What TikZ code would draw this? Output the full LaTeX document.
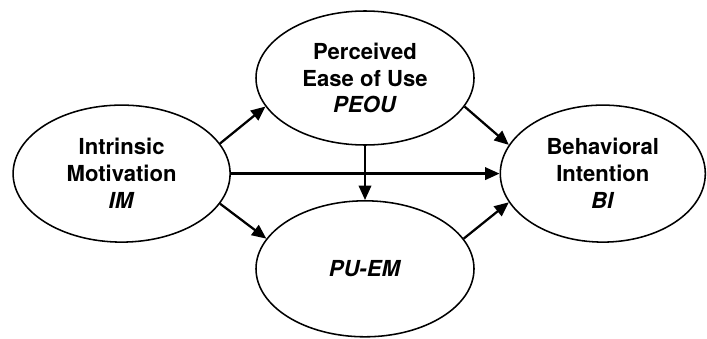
\documentclass[tikz,border=0pt]{standalone}
\usepackage{fontspec}
\setmainfont{TeX Gyre Heros}
\usetikzlibrary{shapes.geometric,arrows.meta}

\begin{document}
\begin{tikzpicture}[
  construct/.style={draw, ellipse, line width=1.1pt, inner sep=0pt, align=center,
    font=\bfseries\fontsize{15.7}{19.1}\selectfont},
  path/.style={line width=1.6pt, -{Triangle[length=3.6mm, width=3.1mm]}}]

\useasboundingbox (0,0) rectangle (17.675, 8.45);

\node[construct, minimum width=5.425cm, minimum height=3.425cm] (IM) at (3.04, 4.11) {Intrinsic\\Motivation\\\textit{IM}};
\node[construct, minimum width=5.45cm, minimum height=3.35cm] (PEOU) at (9.125, 6.5) {Perceived\\Ease of Use\\\textit{PEOU}};
\node[construct, minimum width=5.45cm, minimum height=3.4cm] (PUEM) at (9.125, 1.73) {\textit{PU-EM}};
\node[construct, minimum width=5.125cm, minimum height=3.425cm] (BI) at (15.07, 4.11) {Behavioral\\Intention\\\textit{BI}};

\draw[path] (IM.17) -- (PEOU.196);
\draw[path] (IM.-17) -- (PUEM.163);
\draw[path] (IM) -- (BI);
\draw[path] (PEOU.-16) -- (BI.163);
\draw[path] (PUEM.17) -- (BI.197);
\draw[path] (PEOU) -- (PUEM);

\end{tikzpicture}
\end{document}
